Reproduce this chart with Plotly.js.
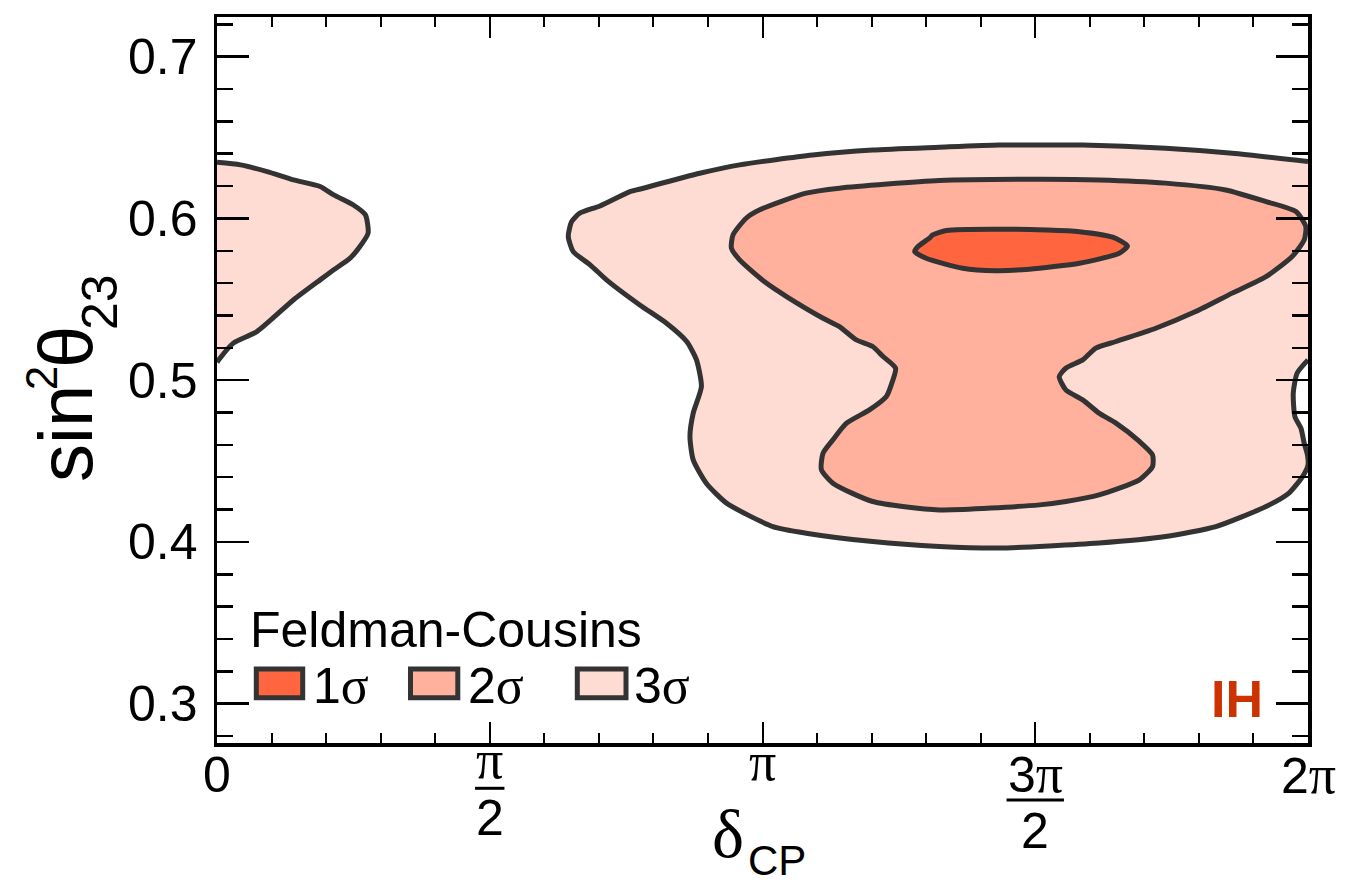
<!DOCTYPE html>
<html>
<head>
<meta charset="utf-8">
<script src="https://cdn.plot.ly/plotly-3.0.1.min.js"></script>
<style>
  html, body { margin: 0; padding: 0; background: #ffffff; }
  #chart { width: 1356px; height: 884px; }
</style>
</head>
<body>
<div id="chart"></div>
<script>
// Allowed regions in (delta_CP / pi, sin^2 theta_23), inverted hierarchy, Feldman-Cousins.

// 1 sigma (closed loop)
const sigma1_dcp = [1.312, 1.337, 1.459, 1.581, 1.642, 1.669, 1.654, 1.581, 1.489, 1.428, 1.367, 1.300, 1.279, 1.285, 1.306, 1.312];
const sigma1_s23 = [0.5898, 0.5925, 0.5933, 0.5918, 0.5884, 0.5830, 0.5785, 0.5723, 0.5686, 0.5677, 0.5692, 0.5754, 0.5795, 0.5826, 0.5878, 0.5898];

// 2 sigma (closed loop)
const sigma2_dcp = [1.508, 1.324, 1.141, 1.080, 0.995, 0.970, 0.946, 0.943, 0.958, 1.007, 1.044, 1.111, 1.141, 1.172, 1.202, 1.221, 1.244, 1.236, 1.227, 1.196, 1.154, 1.129, 1.111, 1.108, 1.129, 1.202, 1.324, 1.508, 1.556, 1.617, 1.691, 1.715, 1.715, 1.691, 1.648, 1.617, 1.587, 1.556, 1.544, 1.556, 1.587, 1.611, 1.648, 1.721, 1.794, 1.861, 1.923, 1.971, 1.993, 1.996, 1.978, 1.923, 1.849, 1.739, 1.617, 1.508];
const sigma2_s23 = [0.6242, 0.6234, 0.6187, 0.6156, 0.6053, 0.6001, 0.5898, 0.5816, 0.5744, 0.5600, 0.5517, 0.5383, 0.5331, 0.5249, 0.5208, 0.5146, 0.5074, 0.4971, 0.4899, 0.4816, 0.4734, 0.4631, 0.4549, 0.4446, 0.4363, 0.4250, 0.4198, 0.4229, 0.4250, 0.4291, 0.4384, 0.4466, 0.4538, 0.4621, 0.4734, 0.4796, 0.4878, 0.4940, 0.5022, 0.5074, 0.5125, 0.5198, 0.5239, 0.5321, 0.5424, 0.5538, 0.5640, 0.5764, 0.5867, 0.5949, 0.6042, 0.6104, 0.6176, 0.6218, 0.6238, 0.6242];

// 3 sigma, main region (open along the 2pi edge)
const sigma3_dcp = [2.000, 1.980, 1.973, 1.976, 1.987, 1.993, 1.999, 2.000, 1.990, 1.965, 1.923, 1.831, 1.739, 1.617, 1.434, 1.324, 1.202, 1.080, 1.019, 0.934, 0.897, 0.873, 0.867, 0.873, 0.888, 0.879, 0.861, 0.824, 0.775, 0.714, 0.684, 0.653, 0.644, 0.650, 0.665, 0.702, 0.757, 0.769, 0.885, 0.958, 1.092, 1.202, 1.324, 1.434, 1.508, 1.587, 1.739, 1.861, 2.000];
const sigma3_s23 = [0.5125, 0.5043, 0.4920, 0.4775, 0.4703, 0.4611, 0.4538, 0.4476, 0.4404, 0.4302, 0.4219, 0.4095, 0.4033, 0.3993, 0.3962, 0.3972, 0.4002, 0.4054, 0.4095, 0.4240, 0.4363, 0.4507, 0.4651, 0.4796, 0.4960, 0.5125, 0.5239, 0.5352, 0.5465, 0.5620, 0.5713, 0.5795, 0.5888, 0.5980, 0.6032, 0.6077, 0.6166, 0.6176, 0.6279, 0.6331, 0.6392, 0.6423, 0.6440, 0.6454, 0.6454, 0.6454, 0.6434, 0.6403, 0.6351];

// 3 sigma, wrap-around piece at delta_CP = 0
const sigma3wrap_dcp = [0.000, 0.043, 0.092, 0.140, 0.189, 0.214, 0.250, 0.272, 0.277, 0.262, 0.244, 0.214, 0.189, 0.140, 0.073, 0.030, 0.003, 0.000];
const sigma3wrap_s23 = [0.6347, 0.6331, 0.6289, 0.6238, 0.6197, 0.6145, 0.6083, 0.6022, 0.5909, 0.5826, 0.5754, 0.5682, 0.5620, 0.5496, 0.5300, 0.5229, 0.5125, 0.5110];

// Axis ticks
const xMajorTicks = [0, 0.5, 1, 1.5, 2];
const yTickLabels = ['0.3', '0.4', '0.5', '0.6', '0.7'];
const yTickValues = [0.3, 0.4, 0.5, 0.6, 0.7];

const legendLabels = ['1', '2', '3'];

const COL = {
  s1: '#FF6640',
  s2: '#FFB19E',
  s3: '#FFDCD3',
  edge: '#333333',
  tag: '#CC3300'
};
const SANS = 'Liberation Sans, Arial, Helvetica, sans-serif';
const SERIF = 'Liberation Serif, Times New Roman, serif';
const LW = 5;

function region(x, y, fill) {
  return {
    type: 'scatter', mode: 'lines', x: x, y: y,
    fill: 'toself', fillcolor: fill,
    line: { color: COL.edge, width: LW, shape: 'spline', smoothing: 0.6 },
    hoverinfo: 'skip'
  };
}

const traces = [
  region(sigma3wrap_dcp, sigma3wrap_s23, COL.s3),
  region(sigma3_dcp, sigma3_s23, COL.s3),
  region(sigma2_dcp, sigma2_s23, COL.s2),
  region(sigma1_dcp, sigma1_s23, COL.s1)
];

// x tick labels: 0, pi/2, pi, 3pi/2, 2pi (fractions stacked with a bar)
const piSpan = '<span style="font-family:Liberation Serif;font-size:54px">π</span>';
const annotations = [];
const shapes = [];
function xLabel(x, text, yshift, font) {
  annotations.push({
    xref: 'x', yref: 'paper', x: x, y: 0, yanchor: 'middle', xanchor: 'center',
    yshift: yshift, text: text, showarrow: false,
    font: font || { family: SANS, size: 50, color: '#000' }
  });
}
xLabel(xMajorTicks[0], '0', -32);
xLabel(xMajorTicks[1], 'π', -17, { family: SERIF, size: 54, color: '#000' });
xLabel(xMajorTicks[1], '2', -74.7);
xLabel(xMajorTicks[2], 'π', -18.8, { family: SERIF, size: 54, color: '#000' });
xLabel(xMajorTicks[3], '3' + piSpan, -31.4);
xLabel(xMajorTicks[3], '2', -88);
xLabel(xMajorTicks[4], '2' + piSpan, -32);

function fracBar(x, half, ypx) {
  shapes.push({
    type: 'line', xref: 'x', xsizemode: 'pixel', xanchor: x, x0: -half, x1: half,
    yref: 'paper', ysizemode: 'pixel', yanchor: 0, y0: ypx, y1: ypx,
    line: { color: '#000', width: 3 }
  });
}
fracBar(xMajorTicks[1], 14.7, -45.3);
fracBar(xMajorTicks[3], 28.7, -57);

// Axis titles
function paperText(text, dx, dy, font, opts) {
  annotations.push(Object.assign({
    xref: 'paper', yref: 'paper', x: 0, y: 0, xanchor: 'center', yanchor: 'middle',
    xshift: dx, yshift: dy, text: text, showarrow: false, font: font
  }, opts || {}));
}
paperText('δ', 511.3, -90.7, { family: SERIF, size: 68, color: '#000' });
paperText('CP', 559.7, -117.5, { family: SANS, size: 42, color: '#000' });

paperText('sin', -151.6, 309.5, { family: SANS, size: 76, color: '#000' }, { textangle: -90 });
paperText('2', -175.5, 364.2, { family: SANS, size: 44, color: '#000' }, { textangle: -90 });
paperText('θ', -151.6, 396.5, { family: SANS, size: 76, color: '#000' }, { textangle: -90 });
paperText('23', -117.6, 441.3, { family: SANS, size: 50, color: '#000' }, { textangle: -90 });

// Legend
paperText('Feldman-Cousins', 32, 113, { family: SANS, size: 50, color: '#000' }, { xanchor: 'left', borderpad: 0 });
const legendFills = [COL.s1, COL.s2, COL.s3];
const legendBoxX = [[39.3, 85.7], [193.5, 240.8], [360.3, 409.0]];
const legendTextX = [95, 249.8, 416];
for (let i = 0; i < legendLabels.length; i++) {
  shapes.push({
    type: 'rect', xref: 'paper', yref: 'paper',
    xsizemode: 'pixel', xanchor: 0, x0: legendBoxX[i][0], x1: legendBoxX[i][1],
    ysizemode: 'pixel', yanchor: 0, y0: 45.3, y1: 74,
    fillcolor: legendFills[i], line: { color: COL.edge, width: LW }
  });
  paperText(legendLabels[i] + '<span style="font-family:Liberation Serif;font-size:52px">σ</span>',
    legendTextX[i], 57.5, { family: SANS, size: 50, color: '#000' }, { xanchor: 'left', borderpad: 0 });
}

// Hierarchy tag
paperText('<b>IH</b>', 1048, 44.3, { family: SANS, size: 52, color: COL.tag }, { xanchor: 'right' });

const layout = {
  width: 1356, height: 884,
  margin: { l: 217, r: 48, t: 17, b: 141, pad: 0 },
  paper_bgcolor: '#ffffff', plot_bgcolor: '#ffffff',
  showlegend: false,
  xaxis: {
    range: [0, 2], tickmode: 'linear', tick0: 0, dtick: 0.5,
    showline: true, linewidth: 3.5, linecolor: '#000', mirror: 'allticks',
    ticks: 'inside', ticklen: 21, tickwidth: 2, tickcolor: '#000',
    showticklabels: false, showgrid: false, zeroline: false,
    minor: { ticks: 'inside', dtick: 0.1, ticklen: 10, tickwidth: 2, tickcolor: '#000', showgrid: false },
    fixedrange: true
  },
  yaxis: {
    range: [0.2757, 0.7245], tickmode: 'array', tickvals: yTickValues, ticktext: yTickLabels,
    showline: true, linewidth: 3.5, linecolor: '#000', mirror: 'allticks',
    ticks: 'inside', ticklen: 32, tickwidth: 2.5, tickcolor: '#000',
    tickfont: { family: SANS, size: 50, color: '#000' },
    ticklabelstandoff: 6,
    showgrid: false, zeroline: false,
    minor: { ticks: 'inside', dtick: 0.02, ticklen: 16, tickwidth: 2.5, tickcolor: '#000', showgrid: false },
    fixedrange: true
  },
  shapes: shapes,
  annotations: annotations
};

Plotly.newPlot('chart', traces, layout, { staticPlot: true, displayModeBar: false });
</script>
</body>
</html>
